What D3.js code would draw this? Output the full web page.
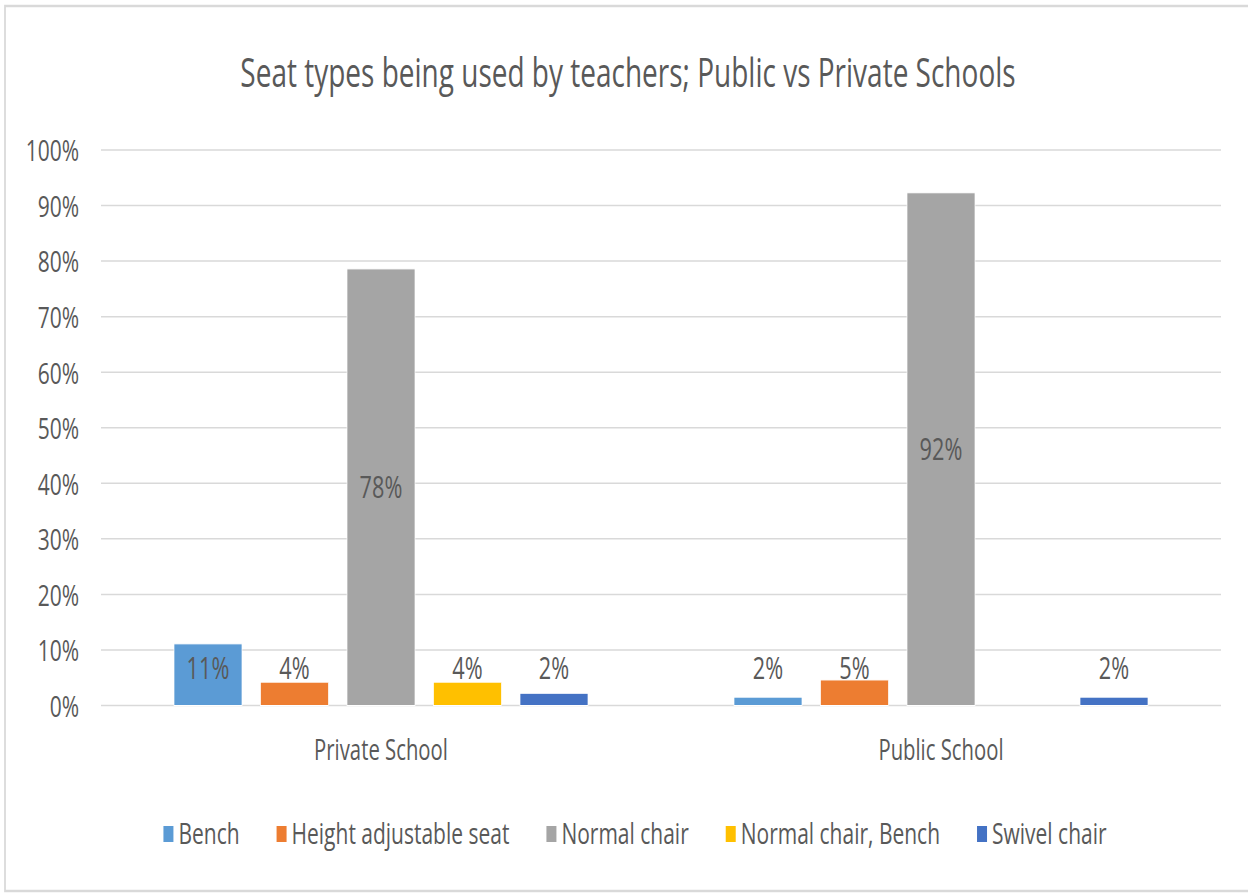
<!DOCTYPE html>
<html>
<head>
<meta charset="utf-8">
<script src="https://cdn.jsdelivr.net/npm/d3@7"></script>
<style>
  html, body { margin: 0; padding: 0; background: #fff; }
  svg { display: block; }
  text { font-family: "Open Sans", "Noto Sans", sans-serif; fill: #595959; }
</style>
</head>
<body>
<svg id="chart" width="1248" height="893"></svg>
<script>
// ---- data ----
const title = "Seat types being used by teachers; Public vs Private Schools";
const categories = ["Private School", "Public School"];
const seriesNames = ["Bench", "Height adjustable seat", "Normal chair", "Normal chair, Bench", "Swivel chair"];
const seriesColors = ["#5B9BD5", "#ED7D31", "#A5A5A5", "#FFC000", "#4472C4"];
const privateValues = [0.111, 0.042, 0.786, 0.042, 0.022];
const publicValues  = [0.015, 0.046, 0.923, null, 0.015];
const valueLabelsPrivate = ["11%", "4%", "78%", "4%", "2%"];
const valueLabelsPublic  = ["2%", "5%", "92%", null, "2%"];
const yTicks = [0, 0.1, 0.2, 0.3, 0.4, 0.5, 0.6, 0.7, 0.8, 0.9, 1.0];

const valuesByCategory = [privateValues, publicValues];
const labelsByCategory = [valueLabelsPrivate, valueLabelsPublic];

// ---- layout (horizontal squeeze like reference) ----
const SX = 0.7, K = 1 / SX;
const svg = d3.select("#chart");
const root = svg.append("g").attr("transform", `scale(${SX},1)`);

// border
root.append("rect")
  .attr("x", 5 * K).attr("y", 6).attr("width", 1300 * K).attr("height", 885)
  .attr("fill", "none").attr("stroke", "#d9d9d9").attr("stroke-width", 2.5);

// title
root.append("text")
  .attr("x", 628 * K).attr("y", 87)
  .attr("text-anchor", "middle")
  .attr("font-size", 40)
  .text(title);

const plotLeft = 101 * K, plotRight = 1221 * K, plotTop = 150, plotBottom = 705.5;

const y = d3.scaleLinear().domain([0, 1]).range([plotBottom, plotTop]);
const x0 = d3.scaleBand().domain(categories).range([plotLeft, plotRight]).padding(0);
const groupOuter = 73 * K;
const x1 = d3.scaleBand().domain(seriesNames)
  .range([groupOuter, x0.bandwidth() - groupOuter]).paddingInner(0.214).paddingOuter(0);
const color = d3.scaleOrdinal().domain(seriesNames).range(seriesColors);

// gridlines
root.append("g").selectAll("line").data(yTicks).join("line")
  .attr("x1", plotLeft).attr("x2", plotRight)
  .attr("y1", d => y(d)).attr("y2", d => y(d))
  .attr("stroke", "#d9d9d9").attr("stroke-width", 1.5);

// y axis labels
const yAxis = d3.axisLeft(y).tickValues(yTicks).tickFormat(d3.format(".0%")).tickSize(0).tickPadding(0);
const yg = root.append("g").attr("transform", `translate(${79 * K},0)`).call(yAxis);
yg.select(".domain").remove();
yg.selectAll("text").attr("font-size", 30).attr("fill", "#595959")
  .attr("font-family", "'Open Sans', sans-serif").attr("dy", "0.36em");

// bars
const groups = root.append("g").selectAll("g.cat").data(categories).join("g")
  .attr("class", "cat")
  .attr("transform", d => `translate(${x0(d)},0)`);

groups.each(function(cat, ci) {
  const vals = valuesByCategory[ci];
  const labs = labelsByCategory[ci];
  const items = seriesNames.map((s, i) => ({ s, v: vals[i], label: labs[i] })).filter(d => d.v != null);
  const g = d3.select(this);
  g.selectAll("rect").data(items).join("rect")
    .attr("x", d => x1(d.s)).attr("width", x1.bandwidth())
    .attr("y", d => y(d.v)).attr("height", d => y(0) - y(d.v))
    .attr("fill", d => color(d.s))
    .attr("stroke", "#ffffff").attr("stroke-width", 1);
  g.selectAll("text.lbl").data(items).join("text")
    .attr("class", "lbl")
    .attr("x", d => x1(d.s) + x1.bandwidth() / 2)
    .attr("y", d => Math.min(y(d.v / 2), y(0.068)))
    .attr("dy", "0.36em")
    .attr("text-anchor", "middle")
    .attr("font-size", 31)
    .attr("fill", "#404040")
    .text(d => d.label);
});

// category labels
root.append("g").selectAll("text").data(categories).join("text")
  .attr("x", d => x0(d) + x0.bandwidth() / 2)
  .attr("y", 760)
  .attr("text-anchor", "middle")
  .attr("font-size", 29)
  .text(d => d);

// legend
const legend = root.append("g");
const items = legend.selectAll("g").data(seriesNames).join("g");
items.append("rect")
  .attr("width", 10 * K).attr("height", 16).attr("y", -18)
  .attr("fill", d => color(d));
items.append("text")
  .attr("x", 15 * K).attr("y", 0)
  .attr("font-size", 30)
  .text(d => d);
let cursor = 0;
const itemGap = 37 * K;
const positions = [];
items.each(function() {
  const w = 15 * K + this.querySelector("text").getComputedTextLength();
  positions.push(cursor);
  cursor += w + itemGap;
});
const total = cursor - itemGap;
const legendCenter = 635 * K;
items.attr("transform", (d, i) => `translate(${legendCenter - total / 2 + positions[i]},844)`);
</script>
</body>
</html>
